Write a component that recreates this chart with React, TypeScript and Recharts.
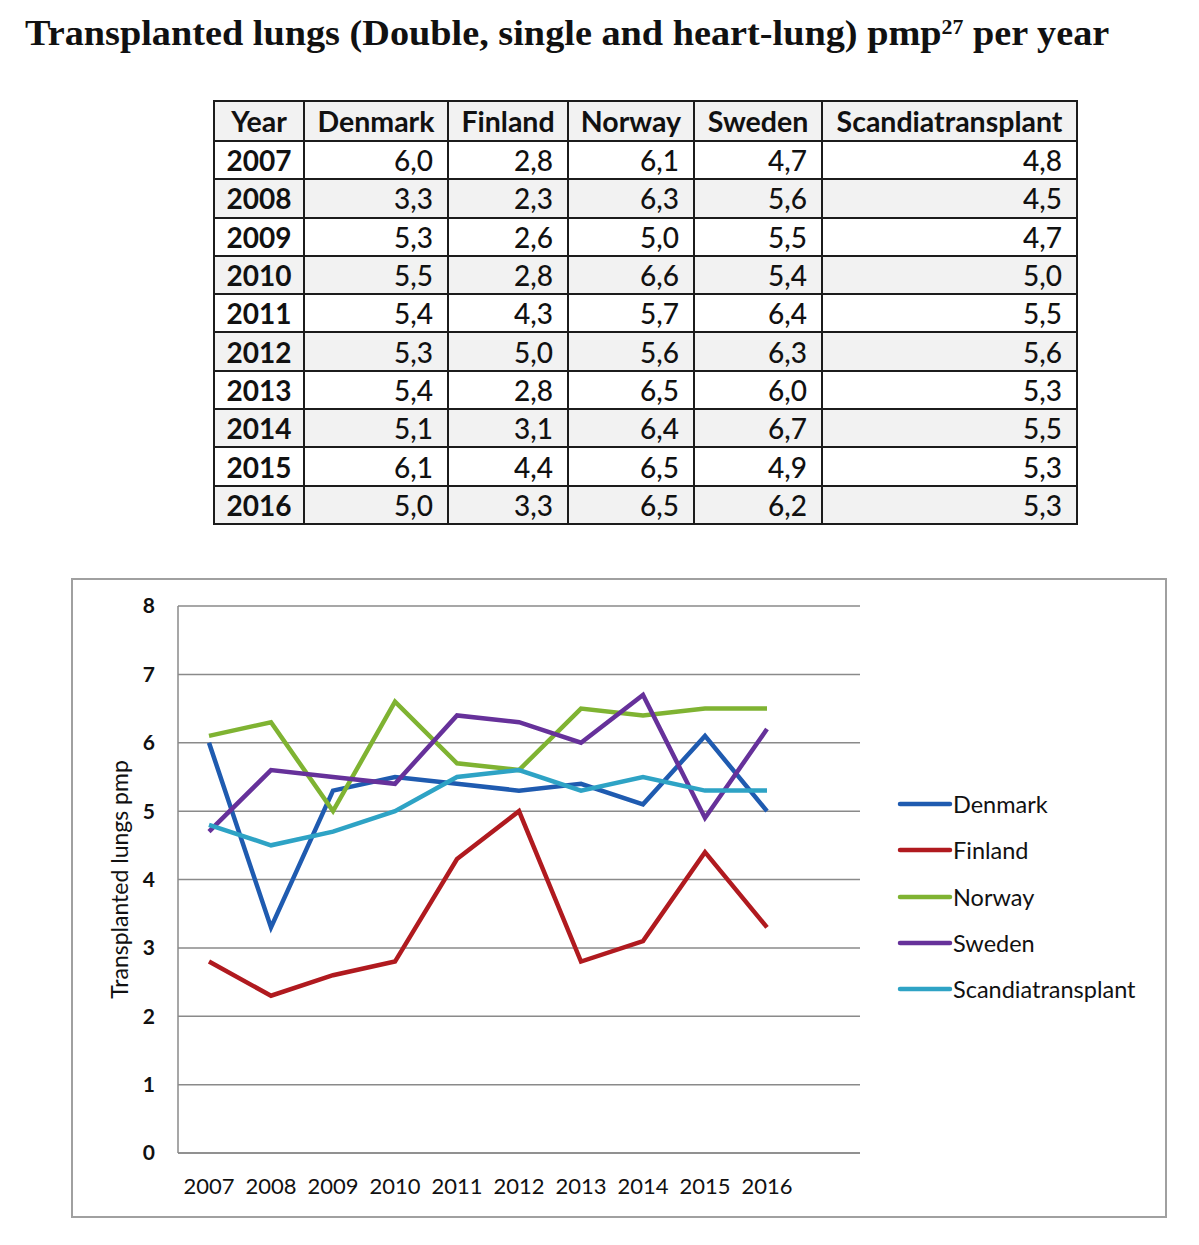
import { LineChart, Line, XAxis, YAxis, CartesianGrid, Legend } from 'recharts';

const years = ['2007', '2008', '2009', '2010', '2011', '2012', '2013', '2014', '2015', '2016'];
const denmark = [6.0, 3.3, 5.3, 5.5, 5.4, 5.3, 5.4, 5.1, 6.1, 5.0];
const finland = [2.8, 2.3, 2.6, 2.8, 4.3, 5.0, 2.8, 3.1, 4.4, 3.3];
const norway = [6.1, 6.3, 5.0, 6.6, 5.7, 5.6, 6.5, 6.4, 6.5, 6.5];
const sweden = [4.7, 5.6, 5.5, 5.4, 6.4, 6.3, 6.0, 6.7, 4.9, 6.2];
const scandia = [4.8, 4.5, 4.7, 5.0, 5.5, 5.6, 5.3, 5.5, 5.3, 5.3];

const seriesNames = ['Denmark', 'Finland', 'Norway', 'Sweden', 'Scandiatransplant'];
const seriesValues = [denmark, finland, norway, sweden, scandia];
const seriesColors = ['#1f5bb0', '#b01a1f', '#7fb332', '#66319a', '#2ea3c5'];
const yTicks = [0, 1, 2, 3, 4, 5, 6, 7, 8];

const data = years.map((year, i) => {
  const row: Record<string, string | number> = { year };
  seriesNames.forEach((name, s) => {
    row[name] = seriesValues[s][i];
  });
  return row;
});

const fmt = (v: number) => v.toFixed(1).replace('.', ',');

const font = 'Lato, "Open Sans", sans-serif';
const colWidths = [90, 144, 120, 126, 128, 255];

const cellBorder = '2px solid #1c1c1c';

function DataTable() {
  return (
    <table
      style={{
        position: 'absolute',
        left: 213,
        top: 100,
        width: 863,
        borderCollapse: 'collapse',
        tableLayout: 'fixed',
        fontFamily: font,
        fontSize: 28,
        color: '#111',
      }}
    >
      <colgroup>
        {colWidths.map((w, i) => (
          <col key={i} style={{ width: w }} />
        ))}
      </colgroup>
      <thead>
        <tr style={{ height: 40, background: '#f2f2f2' }}>
          {['Year', ...seriesNames].map((h) => (
            <th key={h} style={{ border: cellBorder, padding: 0, fontWeight: 700, fontSize: 28.5, textAlign: 'center' }}>
              {h}
            </th>
          ))}
        </tr>
      </thead>
      <tbody>
        {years.map((year, i) => (
          <tr key={year} style={{ height: 38.3, background: i % 2 === 1 ? '#f2f2f2' : '#ffffff' }}>
            <td style={{ border: cellBorder, padding: 0, fontWeight: 700, textAlign: 'center' }}>{year}</td>
            {seriesValues.map((vals, s) => (
              <td key={s} style={{ border: cellBorder, padding: '0 14px 0 0', textAlign: 'right', fontWeight: 500 }}>
                {fmt(vals[i])}
              </td>
            ))}
          </tr>
        ))}
      </tbody>
    </table>
  );
}

const renderLegend = (props: any) => {
  const payload = [...(props.payload || [])].sort(
    (a: any, b: any) => seriesNames.indexOf(a.value) - seriesNames.indexOf(b.value)
  );
  return (
    <div style={{ fontFamily: font, fontSize: 23.5, color: '#111' }}>
      {payload.map((entry: any) => (
        <div key={entry.value} style={{ display: 'flex', alignItems: 'center', height: 46.3 }}>
          <svg width={56} height={8} style={{ display: 'block' }}>
            <line x1={3} y1={4} x2={53} y2={4} stroke={entry.color} strokeWidth={4.5} strokeLinecap="round" />
          </svg>
          <span>{entry.value}</span>
        </div>
      ))}
    </div>
  );
};

export default function App() {
  return (
    <div style={{ position: 'absolute', left: 0, top: 0, width: 1199, height: 1245, background: '#fff' }}>
      <div
        style={{
          position: 'absolute',
          left: 25,
          top: 14,
          fontFamily: '"Liberation Serif", "DejaVu Serif", serif',
          fontWeight: 700,
          fontSize: 35,
          color: '#111',
          whiteSpace: 'nowrap',
          transform: 'scaleX(1.093)',
          transformOrigin: 'left top',
        }}
      >
        Transplanted lungs (Double, single and heart-lung) pmp
        <sup style={{ fontSize: 20, lineHeight: 0, verticalAlign: '0.55em' }}>27</sup> per year
      </div>

      <DataTable />

      <div
        style={{
          position: 'absolute',
          left: 71,
          top: 578,
          width: 1096,
          height: 640,
          boxSizing: 'border-box',
          border: '2px solid #a0a0a0',
        }}
      />
      <div style={{ position: 'absolute', left: 71, top: 578 }}>
        <LineChart
          width={1095}
          height={639}
          data={data}
          margin={{ top: 28, right: 306, bottom: 24, left: 0 }}
          style={{ fontFamily: font }}
        >
          <CartesianGrid vertical={false} stroke="#8a8a8a" strokeWidth={1.5} />
          <XAxis
            dataKey="year"
            scale="band"
            padding={{ left: 0, right: 62 }}
            height={40}
            tickLine={false}
            axisLine={{ stroke: '#8a8a8a', strokeWidth: 1.5 }}
            tickSize={0}
            tickMargin={25}
            tick={{ fill: '#111', fontSize: 22 }}
            interval={0}
          />
          <YAxis
            width={107}
            domain={[0, 8]}
            ticks={yTicks}
            tickLine={false}
            axisLine={{ stroke: '#8a8a8a', strokeWidth: 1.5 }}
            tickSize={0}
            tickMargin={23}
            tick={{ fill: '#111', fontSize: 21, fontWeight: 700 }}
            label={{
              value: 'Transplanted lungs pmp',
              angle: -90,
              position: 'center',
              dx: -5,
              style: { fill: '#111', fontSize: 23, fontFamily: font },
            }}
          />
          <Legend
            layout="vertical"
            align="center"
            verticalAlign="middle"
            content={renderLegend}
            wrapperStyle={{ position: 'absolute', left: 826, top: 203, width: 270 }}
          />
          {seriesNames.map((name, s) => (
            <Line
              key={name}
              type="linear"
              dataKey={name}
              stroke={seriesColors[s]}
              strokeWidth={4.5}
              dot={false}
              activeDot={false}
              isAnimationActive={false}
            />
          ))}
        </LineChart>
      </div>
    </div>
  );
}
